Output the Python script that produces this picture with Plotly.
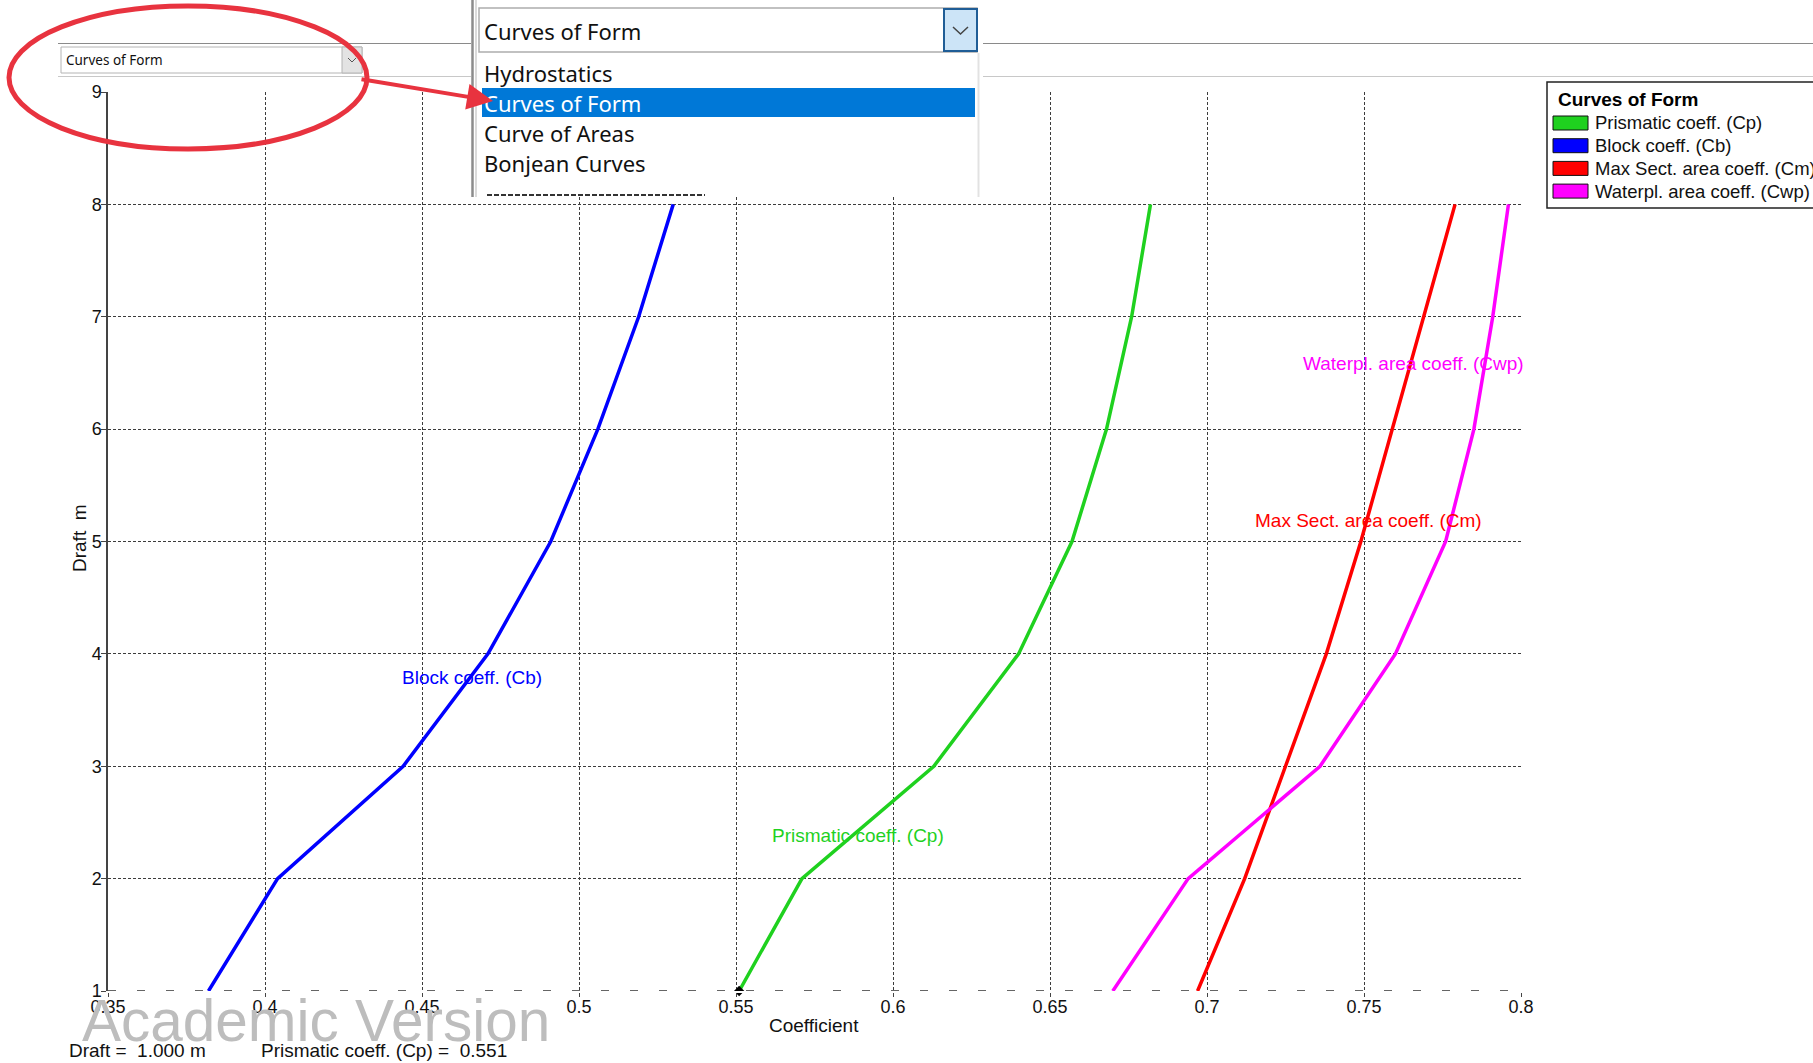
"""
plot.py - Curves of Form (ship hydrostatics) screenshot recreation.
"""

import plotly.graph_objects as go

# ---- data --------------------------------------------------------------
DRAFT = [1, 2, 3, 4, 5, 6, 7, 8]
CP  = [0.551, 0.571, 0.613, 0.640, 0.657, 0.668, 0.676, 0.682]   # prismatic
CB  = [0.382, 0.404, 0.444, 0.471, 0.491, 0.506, 0.519, 0.530]   # block
CM  = [0.697, 0.712, 0.725, 0.738, 0.749, 0.759, 0.769, 0.779]   # max section
CWP = [0.670, 0.694, 0.736, 0.760, 0.776, 0.785, 0.791, 0.796]   # waterplane

SERIES_NAMES = ["Prismatic coeff. (Cp)", "Block coeff. (Cb)",
                "Max Sect. area coeff. (Cm)", "Waterpl. area coeff. (Cwp)"]
SERIES_COLORS = ["#1fd11f", "#0000ff", "#ff0000", "#ff00ff"]

X_TICKS = [0.35, 0.4, 0.45, 0.5, 0.55, 0.6, 0.65, 0.7, 0.75, 0.8]
X_TICK_TEXT = ["0.35", "0.4", "0.45", "0.5", "0.55", "0.6", "0.65", "0.7", "0.75", "0.8"]
Y_TICKS = [1, 2, 3, 4, 5, 6, 7, 8, 9]

CURSOR_DRAFT = 1.000
CURSOR_CP = 0.551

MENU_ITEMS = ["Hydrostatics", "Curves of Form", "Curve of Areas", "Bonjean Curves"]
SELECTED = "Curves of Form"

# ---- page geometry (pixels) ---------------------------------------------
W, H = 1813, 1063
ML, MR, MT, MB = 108, 292, 92, 72
PW, PH = W - ML - MR, H - MT - MB


def px(x):
    return (x - ML) / PW


def py(y):
    return (H - MB - y) / PH


PLOT_FONT = "Liberation Sans, Arial, sans-serif"
UI_FONT = "Noto Sans, Segoe UI, sans-serif"

fig = go.Figure()

series = [CP, CB, CM, CWP]
for name, vals, color in zip(SERIES_NAMES, series, SERIES_COLORS):
    fig.add_trace(go.Scatter(x=vals, y=DRAFT, mode="lines", name=name,
                             line=dict(color=color, width=3.5), showlegend=False))

# cursor position marker
fig.add_trace(go.Scatter(x=[CURSOR_CP], y=[CURSOR_DRAFT], mode="markers",
                         marker=dict(symbol="diamond", size=8, color="black"),
                         cliponaxis=False, showlegend=False))

shapes = []
annots = []


def text(x, y, s, size, color, family=PLOT_FONT, xanchor="left", **kw):
    annots.append(dict(x=px(x), y=py(y), xref="paper", yref="paper", text=s,
                       showarrow=False, xanchor=xanchor, yanchor="middle",
                       font=dict(family=family, size=size, color=color), **kw))


def rect(x0, x1, y0, y1, fill, line_color=None, lw=0):
    shapes.append(dict(type="rect", xref="paper", yref="paper",
                       x0=px(x0), x1=px(x1), y0=py(y0), y1=py(y1),
                       line=dict(color=line_color or fill, width=lw),
                       fillcolor=fill, layer="above"))


def seg(x0, x1, y0, y1, color, width, dash="solid"):
    shapes.append(dict(type="line", xref="paper", yref="paper",
                       x0=px(x0), x1=px(x1), y0=py(y0), y1=py(y1),
                       line=dict(color=color, width=width, dash=dash), layer="above"))


# cursor dashed line across the draft
shapes.append(dict(type="line", xref="x", yref="y", x0=X_TICKS[0], x1=X_TICKS[-1],
                   y0=CURSOR_DRAFT, y1=CURSOR_DRAFT,
                   line=dict(color="#333333", width=1.5, dash="8px,21px"), layer="above"))

# curve labels inside the plot (left edge x, centre y in data units)
label_pos = [(0.5608, 2.388), (0.4430, 3.794), (0.7146, 5.191), (0.7299, 6.588)]
for name, color, (lx, ly) in zip(SERIES_NAMES, SERIES_COLORS, label_pos):
    annots.append(dict(x=lx, y=ly, xref="x", yref="y", text=name, showarrow=False,
                       xanchor="left", yanchor="middle",
                       font=dict(family=PLOT_FONT, size=19, color=color)))

# axis titles
text(814, 1025, "Coefficient", 19, "#111", xanchor="center")
text(79, 538, "Draft\u00a0 m", 19, "#111", xanchor="center", textangle=-90)

# watermark + status line
text(80, 1021, "Academic Version", 58.5, "#bdbdbd")
text(67, 1050, f"Draft =\u00a0 {CURSOR_DRAFT:.3f} m", 19, "#111")
text(259, 1050, f"{SERIES_NAMES[0]} =\u00a0 {CURSOR_CP:.3f}", 19, "#111")

# ---- legend box (right, cut by the window edge) ---------------------------
rect(1547, 1840, 82, 208, "white", "#222", 1.5)
text(1556, 100, "<b>Curves of Form</b>", 19, "#000")
for i, (name, color) in enumerate(zip(SERIES_NAMES, SERIES_COLORS)):
    yc = 123 + i * 22.7
    rect(1553, 1588, yc - 7, yc + 7, color, "#111", 1)
    text(1593, yc, name, 18.5, "#111")

# ---- window chrome: toolbar lines and small combo box -----------------------
for (xa, xb) in [(58, 472), (983, 1813)]:
    seg(xa, xb, 43.5, 43.5, "#8a8a8a", 1.2)
    seg(xa, xb, 76.5, 76.5, "#c8c8c8", 1.2)
rect(61, 362, 47, 73, "white", "#b4b4b4", 1)
rect(342, 362, 47, 73, "#e3e3e3", "#b4b4b4", 1)
shapes.append(dict(type="path", xref="paper", yref="paper",
                   path=f"M {px(348)},{py(58)} L {px(352)},{py(62)} L {px(356)},{py(58)}",
                   line=dict(color="#555", width=1), layer="above"))
text(64, 60.5, SELECTED, 13.5, "#111", family=UI_FONT)

# ---- opened drop-down list (overlay) --------------------------------------
rect(471, 981, -5, 197, "white")
seg(472.5, 472.5, -5, 197, "#8c8c8c", 2.5)
seg(476, 476, -5, 197, "#cfcfcf", 1.5)
seg(978.5, 978.5, 53, 197, "#e2e2e2", 2)
# combo box
rect(479, 977, 8, 52, "white", "#adadad", 1.5)
rect(944, 977, 9, 51, "#cce4f7", "#1f5d96", 2)
shapes.append(dict(type="path", xref="paper", yref="paper",
                   path=f"M {px(953)},{py(27)} L {px(960.5)},{py(34)} L {px(968)},{py(27)}",
                   line=dict(color="#444", width=1.5), layer="above"))
text(482, 31, SELECTED, 22, "#111", family=UI_FONT)
# list items
for i, item in enumerate(MENU_ITEMS):
    yc = 73 + i * 30
    sel = item == SELECTED
    if sel:
        rect(482, 975, yc - 15, yc + 14, "#0078d7")
    text(482, yc, item, 22, "white" if sel else "#111", family=UI_FONT)
seg(487, 705, 195, 195, "#333", 2, "5px,2px")

# ---- red highlight ellipse and arrow ---------------------------------------
shapes.append(dict(type="circle", xref="paper", yref="paper", x0=px(9), x1=px(367),
                   y0=py(6), y1=py(149), line=dict(color="#e8333f", width=5), layer="above"))
annots.append(dict(x=px(493), y=py(101), xref="paper", yref="paper", text="",
                   showarrow=True, ax=-133, ay=-22, arrowhead=2, arrowsize=1.3,
                   arrowwidth=4, arrowcolor="#e8333f"))

fig.update_layout(
    width=W, height=H, autosize=False,
    margin=dict(l=ML, r=MR, t=MT, b=MB, pad=0, autoexpand=False),
    plot_bgcolor="white", paper_bgcolor="white",
    font=dict(family=PLOT_FONT, size=18, color="#222"),
    showlegend=False,
    shapes=shapes, annotations=annots,
)
fig.update_xaxes(range=[X_TICKS[0], X_TICKS[-1]], tickvals=X_TICKS, ticktext=X_TICK_TEXT,
                 showgrid=True, gridcolor="#3c3c3c", griddash="3px,2px", gridwidth=1,
                 zeroline=False, showline=True, linecolor="white", linewidth=2,
                 ticks="outside", ticklen=4, tickcolor="#444", ticklabelstandoff=-6,
                 tickfont=dict(size=18, color="#111"))
fig.update_yaxes(range=[Y_TICKS[0], Y_TICKS[-1]], tickvals=Y_TICKS,
                 showgrid=True, gridcolor="#3c3c3c", griddash="3px,2px", gridwidth=1,
                 zeroline=False, showline=True, linecolor="#444", linewidth=1.5,
                 ticks="outside", ticklen=5, tickcolor="#444", ticklabelstandoff=-4,
                 tickfont=dict(size=18, color="#111"))

fig.write_html("out.html", config={"displayModeBar": False},
               post_script="document.body.style.margin='0';")
